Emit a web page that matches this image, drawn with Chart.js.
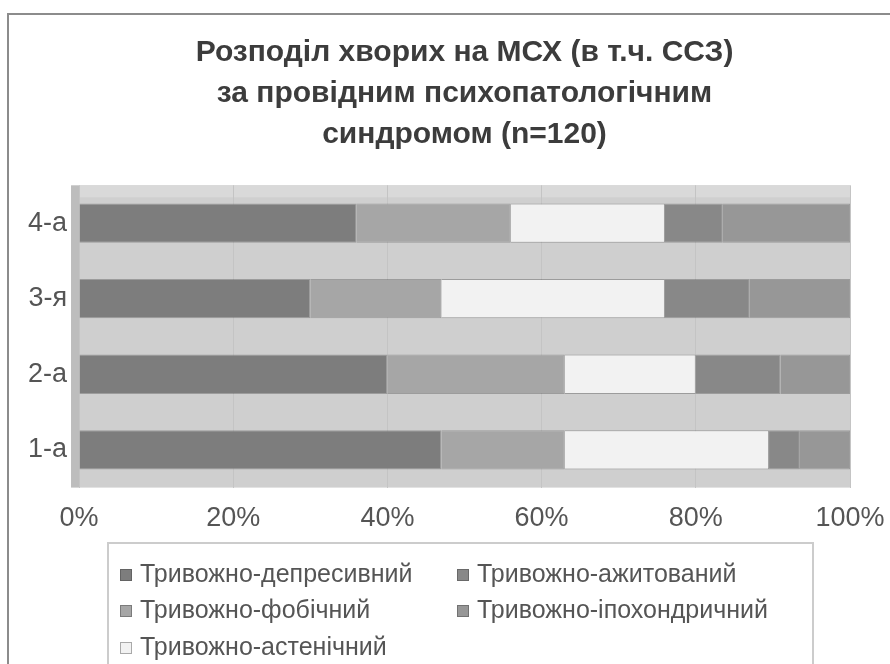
<!DOCTYPE html>
<html>
<head>
<meta charset="utf-8">
<script src="https://cdn.jsdelivr.net/npm/chart.js@4"></script>
<style>
  html, body { margin: 0; padding: 0; background: #fff; }
  #wrap { width: 890px; height: 664px; }
</style>
</head>
<body>
<div id="wrap"><canvas id="syndromes"></canvas></div>
<script>
// groups (top to bottom) and share of each leading syndrome, %
const groups = ["4-а", "3-я", "2-а", "1-а"];
const depressive = [36, 30, 40, 47];
const phobic = [20, 17, 23, 16];
const asthenic = [20, 29, 17, 26.5];
const agitated = [7.5, 11, 11, 4];
const hypochondriac = [16.5, 13, 9, 6.5];
const xTicks = [0, 20, 40, 60, 80, 100];

const titleLines = [
  "Розподіл хворих на МСХ (в т.ч. ССЗ)",
  "за провідним психопатологічним",
  "синдромом (n=120)"
];

const FONT = "'Liberation Sans', Arial, sans-serif";

function series(label, data, color) {
  return {
    label: label,
    data: data,
    backgroundColor: color,
    borderColor: "rgba(60, 60, 60, 0.35)",
    borderWidth: 1,
    categoryPercentage: 1,
    barPercentage: 0.52
  };
}

// frame around the whole chart + grey plot wall
const frame = {
  id: "frame",
  beforeDraw(chart) {
    const ctx = chart.ctx;
    const a = chart.chartArea;
    ctx.save();
    ctx.strokeStyle = "#8c8c8c";
    ctx.lineWidth = 2;
    ctx.beginPath();
    ctx.moveTo(8, 700);
    ctx.lineTo(8, 14);
    ctx.lineTo(900, 14);
    ctx.stroke();
    ctx.fillStyle = "#cfcfcf";
    ctx.fillRect(a.left, a.top, a.right - a.left, a.bottom - a.top);
    ctx.fillStyle = "#d9d9d9";
    ctx.fillRect(a.left, a.top, a.right - a.left, 12);
    ctx.fillStyle = "#bdbdbd";
    ctx.fillRect(a.left - 8, a.top, 8, a.bottom - a.top);
    ctx.restore();
  }
};

// two-column legend in a bordered box below the axis
const boxLegend = {
  id: "boxLegend",
  afterDraw(chart) {
    const ctx = chart.ctx;
    const ds = chart.data.datasets;
    const cells = [
      [0, 120, 575], [3, 457, 575],
      [1, 120, 611], [4, 457, 611],
      [2, 120, 648]
    ];
    ctx.save();
    ctx.strokeStyle = "#cccccc";
    ctx.lineWidth = 2;
    ctx.strokeRect(108, 543, 705, 160);
    ctx.font = "25px " + FONT;
    ctx.textBaseline = "middle";
    cells.forEach(([i, x, y]) => {
      ctx.fillStyle = ds[i].backgroundColor;
      ctx.fillRect(x, y - 6, 12, 12);
      ctx.strokeStyle = "rgba(60,60,60,0.4)";
      ctx.lineWidth = 1;
      ctx.strokeRect(x + 0.5, y - 5.5, 11, 11);
      ctx.fillStyle = "#555";
      ctx.fillText(ds[i].label, x + 20, y);
    });
    ctx.restore();
  }
};

new Chart(document.getElementById("syndromes"), {
  type: "bar",
  data: {
    labels: groups,
    datasets: [
      series("Тривожно-депресивний", depressive, "#7d7d7d"),
      series("Тривожно-фобічний", phobic, "#a6a6a6"),
      series("Тривожно-астенічний", asthenic, "#f2f2f2"),
      series("Тривожно-ажитований", agitated, "#888888"),
      series("Тривожно-іпохондричний", hypochondriac, "#979797")
    ]
  },
  options: {
    indexAxis: "y",
    responsive: true,
    maintainAspectRatio: false,
    animation: false,
    layout: { padding: { left: 16, right: 0, top: 0, bottom: 114 } },
    plugins: {
      legend: { display: false },
      tooltip: { enabled: false },
      title: {
        display: true,
        fullSize: false,
        text: titleLines,
        color: "#3c3c3c",
        font: { family: FONT, size: 30, weight: "bold", lineHeight: 1.37 },
        padding: { top: 32, bottom: 30 }
      }
    },
    scales: {
      x: {
        stacked: true,
        min: 0,
        max: 100,
        afterBuildTicks(scale) {
          scale.ticks = xTicks.map(v => ({ value: v }));
        },
        afterFit(scale) {
          scale.paddingLeft = 0;
          scale.paddingRight = 40;
        },
        grid: { color: "#c4c4c4", drawTicks: false },
        border: { display: false },
        ticks: {
          color: "#555",
          padding: 15,
          font: { family: FONT, size: 27 },
          callback: v => v + "%"
        }
      },
      y: {
        stacked: true,
        grid: { display: false, drawTicks: false },
        border: { display: false },
        ticks: {
          color: "#555",
          padding: 12,
          font: { family: FONT, size: 27 }
        }
      }
    }
  },
  plugins: [frame, boxLegend]
});
</script>
</body>
</html>
